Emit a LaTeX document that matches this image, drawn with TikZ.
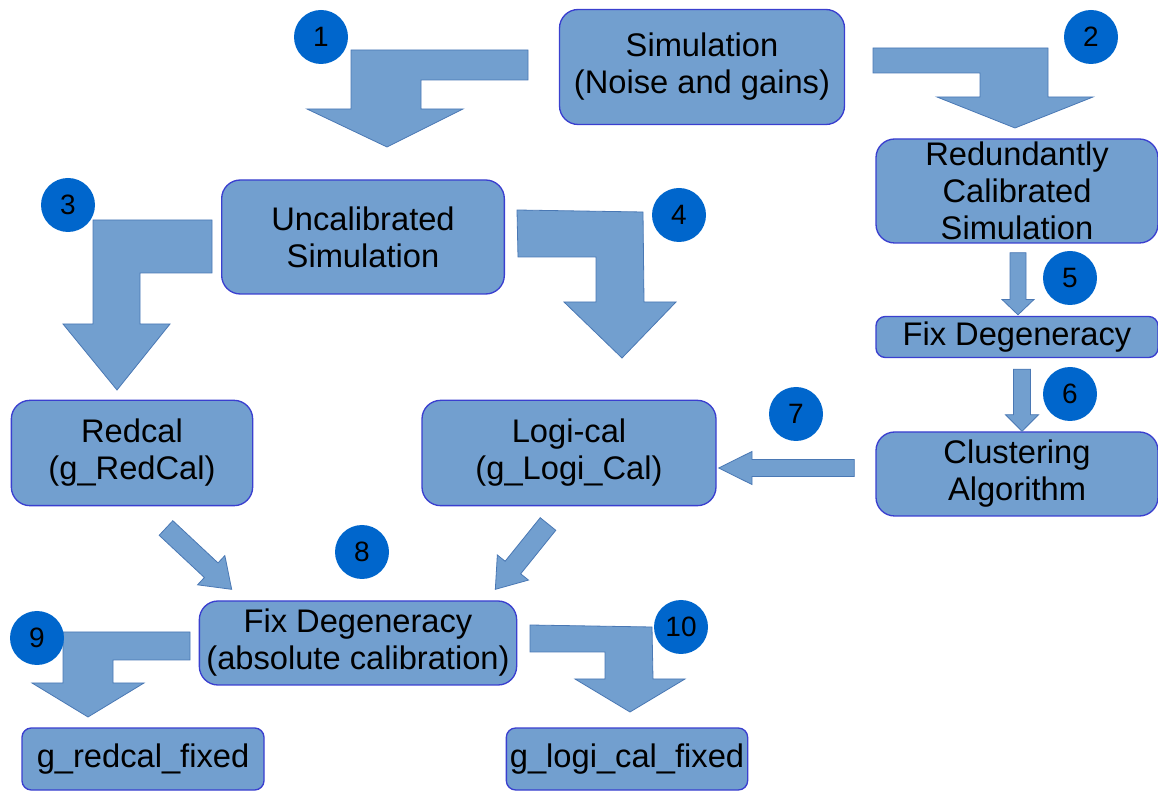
\documentclass[tikz,border=0pt]{standalone}
\usepackage{fontspec}
\setmainfont{Liberation Sans}
\usetikzlibrary{calc}
\definecolor{boxfill}{HTML}{729FCF}
\definecolor{boxline}{HTML}{3A3FCF}
\definecolor{arrline}{HTML}{4A78B4}
\definecolor{numfill}{HTML}{0066CC}
% straight block arrow: tail, tip, shaft half width, head half width, head length
\newcommand{\blockarrow}[5]{\filldraw[barrow] ($(#1)!#3!90:(#2)$) -- ($(#2)!#5!(#1)!#3!-90:(#1)$) -- ($(#2)!#5!(#1)!#4!-90:(#1)$) -- (#2) -- ($(#2)!#5!(#1)!#4!90:(#1)$) -- ($(#2)!#5!(#1)!#3!90:(#1)$) -- ($(#1)!#3!-90:(#2)$) -- cycle;}
\begin{document}
\begin{tikzpicture}[x=0.75pt,y=-0.75pt,
  box/.style={draw=boxline, fill=boxfill, line width=1pt, rounded corners=14pt, align=center, inner sep=0pt, font=\fontsize{24.5}{27.75}\selectfont},
  sbox/.style={box, rounded corners=7pt},
  numc/.style={circle, fill=numfill, inner sep=0pt, minimum size=40.5pt, font=\fontsize{21}{21}\selectfont},
  barrow/.style={fill=boxfill, draw=arrline, line width=0.6pt, line join=miter},
]
\useasboundingbox (0,0) rectangle (1158,791);
% boxes
\node[box, minimum width=213.75pt, minimum height=86.25pt] (sim) at (702,67) {Simulation\\(Noise and gains)};
\node[box, minimum width=211.5pt, minimum height=78pt] (redsim) at (1017,191) {Redundantly\\Calibrated\\Simulation};
\node[sbox, minimum width=211.5pt, minimum height=30.75pt] (fixa) at (1017,337) {Fix Degeneracy};
\node[box, minimum width=211.5pt, minimum height=63pt] (clust) at (1017,474) {Clustering\\Algorithm};
\node[box, minimum width=212pt, minimum height=85.5pt] (uncal) at (363,237) {Uncalibrated\\Simulation};
\node[box, minimum width=181pt, minimum height=79pt] (redcal) at (132,453) {Redcal\\(g\_RedCal)};
\node[box, minimum width=220.5pt, minimum height=79pt] (logi) at (569,453) {Logi-cal\\(g\_Logi\_Cal)};
\node[box, minimum width=238pt, minimum height=63pt] (fixb) at (358,643) {Fix Degeneracy\\(absolute calibration)};
\node[sbox, minimum width=181.5pt, minimum height=46.5pt] (gred) at (143,759) {g\_redcal\_fixed};
\node[sbox, minimum width=181pt, minimum height=46.5pt] (glogi) at (627,759) {g\_logi\_cal\_fixed};
% bent arrows
\filldraw[barrow] (528,50) -- (351,50) -- (351,109) -- (307,109) -- (387,147) -- (463,109) -- (421,109) -- (421,80) -- (528,80) -- cycle;
\filldraw[barrow] (873,48) -- (1048,48) -- (1048,97) -- (1093,97) -- (1015,128) -- (937,97) -- (980,97) -- (980,73) -- (873,73) -- cycle;
\filldraw[barrow] (212,220) -- (93,220) -- (93,324) -- (63,324) -- (117,390) -- (170,324) -- (140,324) -- (140,273) -- (212,273) -- cycle;
\filldraw[barrow] (517,210) -- (643,212) -- (644,302) -- (676,302) -- (622,358) -- (564,302) -- (596,302) -- (596,257) -- (518,257) -- cycle;
\filldraw[barrow] (190,632) -- (63,632) -- (63,683) -- (32,683) -- (88,717) -- (144,683) -- (113,683) -- (113,660) -- (190,660) -- cycle;
\filldraw[barrow] (530,625) -- (652,627) -- (653,679) -- (685,679) -- (630,712) -- (575,679) -- (605,679) -- (605,652) -- (530,652) -- cycle;
% straight arrows
\coordinate (t5) at ($(redsim.south)+(1,9)$); \coordinate (h5) at ($(fixa.north)+(1,-1)$);
\coordinate (t6) at ($(fixa.south)+(5,11)$); \coordinate (h6) at ($(clust.north)+(5,0)$);
\coordinate (t7) at ($(clust.west)+(-21,-6)$); \coordinate (h7) at ($(logi.east)+(2,15)$);
\coordinate (t8a) at (166,528); \coordinate (h8a) at ($(fixb.north west)+(33,-11)$);
\coordinate (t8b) at (548,524); \coordinate (h8b) at ($(fixb.north east)+(-22,-11)$);
\blockarrow{t5}{h5}{6pt}{12pt}{11.5pt}
\blockarrow{t6}{h6}{6.4pt}{12.4pt}{12.5pt}
\blockarrow{t7}{h7}{6.4pt}{12.4pt}{25pt}
\blockarrow{t8a}{h8a}{7.5pt}{15pt}{21pt}
\blockarrow{t8b}{h8b}{7.5pt}{15pt}{21pt}
% step numbers
\node[numc] (n1) at (321,37) {1};
\node[numc] (n2) at (1091,37) {2};
\node[numc] (n3) at (68,205) {3};
\node[numc] (n4) at (679,215) {4};
\node[numc] (n5) at (1070,278) {5};
\node[numc] (n6) at (1070,394) {6};
\node[numc] (n7) at (796,414) {7};
\node[numc] (n8) at (362,552) {8};
\node[numc] (n9) at (37,638) {9};
\node[numc] (n10) at (681,627) {10};
\end{tikzpicture}
\end{document}
